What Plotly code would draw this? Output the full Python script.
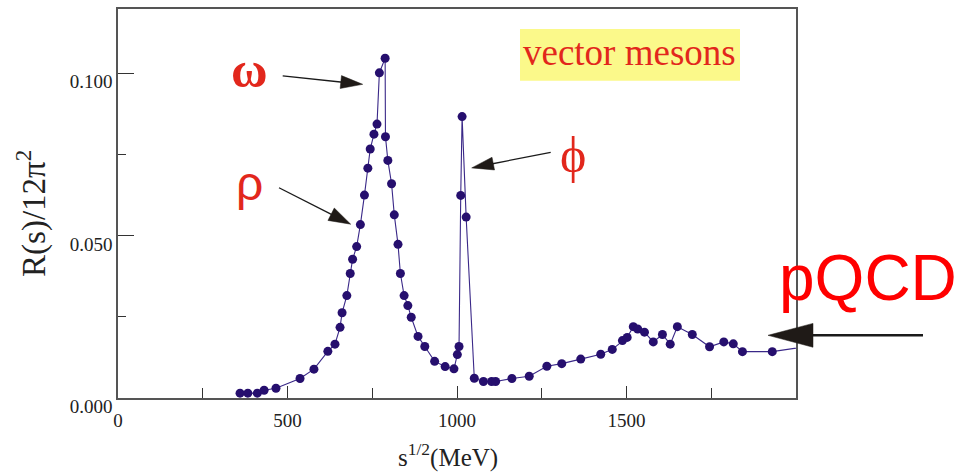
import plotly.graph_objects as go
import math

# ---- data ----
energy_mev = [360, 383, 411, 431, 466, 537, 578, 619, 640, 655, 661, 675, 685, 692, 704,
              715, 727, 737, 744, 755, 764, 771, 788, 789, 796, 807, 815, 826, 833, 844,
              855, 865, 885, 905, 934, 965, 991, 1001, 1006, 1011, 1015, 1027, 1051, 1078,
              1102, 1114, 1162, 1213, 1265, 1309, 1365, 1424, 1458, 1488, 1502, 1520, 1533,
              1553, 1579, 1606, 1629, 1650, 1694, 1745, 1787, 1815, 1842, 1930, 2060]
r_over_12pi2 = [0.0015, 0.0015, 0.0015, 0.0024, 0.0030, 0.0060, 0.0089, 0.0144, 0.0166,
                0.0218, 0.0263, 0.0316, 0.0384, 0.0428, 0.0467, 0.0535, 0.0626, 0.0709,
                0.0768, 0.0814, 0.0845, 0.1003, 0.1048, 0.0806, 0.0733, 0.0661, 0.0565,
                0.0474, 0.0384, 0.0316, 0.0285, 0.0249, 0.0190, 0.0159, 0.0113, 0.0097,
                0.0090, 0.0134, 0.0159, 0.0625, 0.0868, 0.0558, 0.0061, 0.0051, 0.0051,
                0.0051, 0.0060, 0.0067, 0.0098, 0.0106, 0.0120, 0.0135, 0.0150, 0.0177,
                0.0187, 0.0220, 0.0213, 0.0203, 0.0173, 0.0196, 0.0166, 0.0220, 0.0196,
                0.0158, 0.0173, 0.0167, 0.0143, 0.0143, 0.0163]
x_tick_vals = [0, 500, 1000, 1500]
x_tick_text = ["0", "500", "1000", "1500"]
y_tick_vals = [0.0, 0.05, 0.1]
y_tick_text = ["0.000", "0.050", "0.100"]

W, H = 961, 475
L, R, T, B = 118, 165, 7, 77
PW, PH = W - L - R, H - T - B


def px(xp):
    return (xp - L) / PW


def py(yp):
    return (H - B - yp) / PH


def arrow(x0, y0, x1, y1, hl, hw, lw):
    dx, dy = x1 - x0, y1 - y0
    n = math.hypot(dx, dy)
    ux, uy = dx / n, dy / n
    bx, by = x1 - ux * hl, y1 - uy * hl
    nx, ny = -uy, ux
    line = dict(type="line", xref="paper", yref="paper",
                x0=px(x0), y0=py(y0), x1=px(bx + ux * 2), y1=py(by + uy * 2),
                line=dict(color="#1a1a1a", width=lw))
    p = "M{},{} L{},{} L{},{} Z".format(
        px(x1), py(y1), px(bx + nx * hw), py(by + ny * hw), px(bx - nx * hw), py(by - ny * hw))
    head = dict(type="path", xref="paper", yref="paper", path=p,
                fillcolor="#1f1a17", line=dict(color="#1f1a17", width=0.5))
    return [line, head]


fig = go.Figure()
fig.add_trace(go.Scatter(
    x=energy_mev, y=r_over_12pi2, mode="lines+markers",
    line=dict(color="#3a2888", width=1.1),
    marker=dict(color="#260f6e", size=9, line=dict(width=0)),
    showlegend=False, hoverinfo="skip"))

shapes = []
shapes.append(dict(type="rect", xref="paper", yref="paper", layer="below",
                   x0=px(520), x1=px(740), y0=py(79), y1=py(27),
                   fillcolor="#fbf98a", line=dict(width=0)))
shapes += arrow(282.7, 74.3, 362.7, 82.7, 22, 6.5, 1.3)
shapes += arrow(279, 186.7, 350.7, 223.3, 22, 7, 1.3)
shapes += arrow(550.7, 151, 471.7, 166.7, 22, 6.5, 1.3)
shapes += arrow(923, 335, 768, 335, 45, 12, 2.5)

serif = "Liberation Serif"
ann = [
    dict(text="vector mesons", x=px(629), y=py(51), font=dict(family=serif, size=37, color="#e2271c")),
    dict(text="<b>ω</b>", x=px(249), y=py(68), font=dict(family=serif, size=50, color="#e2271c")),
    dict(text="ρ", x=px(249), y=py(182), font=dict(family="Liberation Sans", size=48, color="#e2271c")),
    dict(text="ϕ", x=px(573), y=py(154), font=dict(family=serif, size=50, color="#e2271c")),
    dict(text="pQCD", x=px(868), y=py(277), font=dict(family="Liberation Sans", size=64, color="#ff0000")),
    dict(text="R(s)/12π<sup>2</sup>", x=px(32), y=py(212), textangle=-90,
         font=dict(family=serif, size=33, color="#222")),
    dict(text="s<sup>1/2</sup>(MeV)", x=px(448), y=py(456),
         font=dict(family=serif, size=25, color="#222")),
]
annotations = []
for a in ann:
    a.update(xref="paper", yref="paper", showarrow=False, xanchor="center", yanchor="middle")
    annotations.append(a)

axis_common = dict(showline=True, mirror=True, linecolor="#555", linewidth=1.5,
                   showgrid=False, zeroline=False, ticks="inside", tickcolor="#333",
                   tickwidth=1.3, tickfont=dict(family=serif, size=19, color="#222"))

fig.update_layout(
    width=W, height=H, margin=dict(l=L, r=R, t=T, b=B),
    paper_bgcolor="white", plot_bgcolor="white",
    shapes=shapes, annotations=annotations,
    xaxis=dict(range=[0, 2000], tickmode="array", tickvals=x_tick_vals, ticktext=x_tick_text,
               ticklen=12, ticklabelstandoff=4,
               minor=dict(tickvals=[250, 750, 1250, 1750], ticklen=10, ticks="inside",
                          tickcolor="#333", tickwidth=1.3),
               **axis_common),
    yaxis=dict(range=[0, 0.12], tickmode="array", tickvals=y_tick_vals, ticktext=y_tick_text,
               ticklen=16, minor=dict(tickvals=[0.025, 0.075], ticklen=8, ticks="inside",
                                      tickcolor="#333", tickwidth=1.3),
               ticklabelshift=8, **axis_common),
)
fig.write_html("out.html", config={"displayModeBar": False},
               post_script="document.body.style.margin='0px';")
